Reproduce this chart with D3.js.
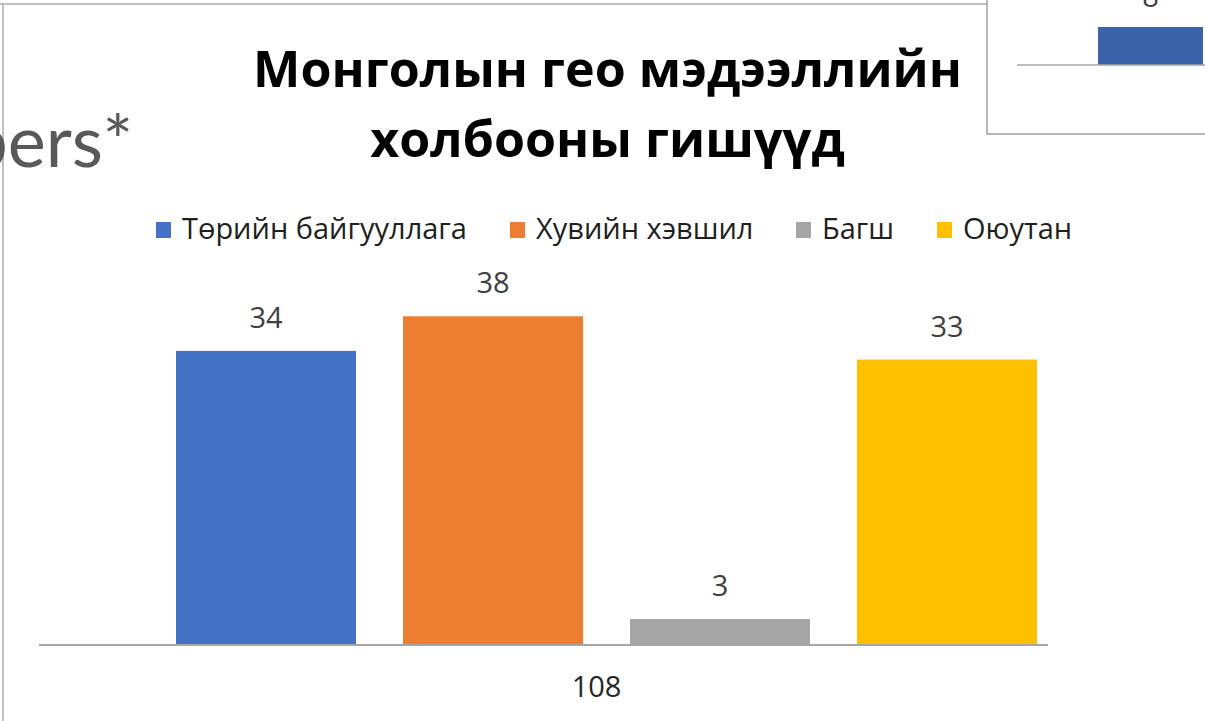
<!DOCTYPE html>
<html>
<head>
<meta charset="utf-8">
<script src="https://cdn.jsdelivr.net/npm/d3@7"></script>
<style>
  html, body { margin: 0; padding: 0; background: #ffffff; overflow: hidden; }
  svg { display: block; }
</style>
</head>
<body>
<svg id="chart" width="1205" height="721"></svg>
<script>
// ---- data ----
const categories = ["108"];
const seriesNames = ["Төрийн байгууллага", "Хувийн хэвшил", "Багш", "Оюутан"];
const seriesValues = [34, 38, 3, 33];
const seriesColors = ["#4472c4", "#ed7d31", "#a5a5a5", "#ffc000"];
const titleLines = ["Монголын гео мэдээллийн", "холбооны гишүүд"];
const insetValues = [8];
const slideText = "Members*";

const svg = d3.select("#chart");
const W = 1205, H = 721;

// fit font size so text width matches a target
function fitWidth(sel, target) {
  const fs = parseFloat(sel.attr("font-size"));
  const w = sel.node().getComputedTextLength();
  if (w > 0) sel.attr("font-size", (fs * target / w).toFixed(2));
  return parseFloat(sel.attr("font-size"));
}

// ---- main chart frame ----
svg.append("line").attr("x1", 0).attr("x2", 987).attr("y1", 4).attr("y2", 4)
  .attr("stroke", "#ababab").attr("stroke-width", 1.5);
svg.append("line").attr("x1", 3).attr("x2", 3).attr("y1", 4).attr("y2", H)
  .attr("stroke", "#ababab").attr("stroke-width", 1.5);

// ---- title ----
const t1 = svg.append("text").attr("x", 607.5).attr("y", 87)
  .attr("text-anchor", "middle").attr("font-family", "'Open Sans', 'Noto Sans', sans-serif")
  .attr("font-weight", 700).attr("font-size", 48).attr("fill", "#000").text(titleLines[0]);
const tfs = fitWidth(t1, 709);
svg.append("text").attr("x", 607.5).attr("y", 157)
  .attr("text-anchor", "middle").attr("font-family", "'Open Sans', 'Noto Sans', sans-serif")
  .attr("font-weight", 700).attr("font-size", tfs).attr("fill", "#000").text(titleLines[1]);

// ---- legend ----
const legendX = [156, 510, 796, 937];
const leg = svg.append("g");
let lfs = 24;
seriesNames.forEach((name, i) => {
  leg.append("rect").attr("x", legendX[i]).attr("y", 222).attr("width", 15).attr("height", 16)
    .attr("fill", seriesColors[i]);
  const t = leg.append("text").attr("x", legendX[i] + 26).attr("y", 239)
    .attr("font-family", "'Open Sans', 'Noto Sans', sans-serif").attr("font-size", lfs)
    .attr("fill", "#1f1f1f").text(name);
  if (i === 0) lfs = fitWidth(t, 285);
});

// ---- scales ----
const axisY = 645;
const y = d3.scaleLinear().domain([0, 40]).range([axisY, 299]);
const xCat = d3.scaleBand().domain(categories).range([102, 1111]);
const xSer = d3.scaleBand().domain(seriesNames).range([0, xCat.bandwidth()])
  .paddingInner(0.207).paddingOuter(0.326);

// ---- bars ----
const g = svg.append("g");
categories.forEach(cat => {
  seriesNames.forEach((name, i) => {
    const v = seriesValues[i];
    const x = xCat(cat) + xSer(name);
    g.append("rect").attr("x", x).attr("y", y(v))
      .attr("width", xSer.bandwidth()).attr("height", y(0) - y(v))
      .attr("fill", seriesColors[i]);
    g.append("text").attr("x", x + xSer.bandwidth() / 2).attr("y", y(v) - 23)
      .attr("text-anchor", "middle").attr("font-family", "'Open Sans', 'Noto Sans', sans-serif")
      .attr("font-size", 29).attr("fill", "#404040").text(v);
  });
  g.append("text").attr("x", xCat(cat) + xCat.bandwidth() / 2 - 10).attr("y", 697)
    .attr("text-anchor", "middle").attr("font-family", "'Open Sans', 'Noto Sans', sans-serif")
    .attr("font-size", 29).attr("fill", "#262626").text(cat);
});

// axis line
svg.append("line").attr("x1", 39).attr("x2", 1048).attr("y1", axisY).attr("y2", axisY)
  .attr("stroke", "#a6a6a6").attr("stroke-width", 2);

// ---- inset chart (top right, cropped) ----
const inset = svg.append("g");
inset.append("rect").attr("x", 987).attr("y", -10).attr("width", 300).attr("height", 144)
  .attr("fill", "#fff").attr("stroke", "#a0a0a0").attr("stroke-width", 1.5);
const iy = d3.scaleLinear().domain([0, 10]).range([65, 17.5]);
const ix = d3.scaleBand().domain(["a"]).range([1098, 1203]);
insetValues.forEach(v => {
  inset.append("rect").attr("x", ix("a")).attr("y", iy(v))
    .attr("width", ix.bandwidth()).attr("height", iy(0) - iy(v)).attr("fill", "#3b63aa");
  inset.append("text").attr("x", ix("a") + ix.bandwidth() / 2).attr("y", iy(v) - 20)
    .attr("text-anchor", "middle").attr("font-family", "'Open Sans', 'Noto Sans', sans-serif")
    .attr("font-size", 29).attr("fill", "#404040").text(v);
});
inset.append("line").attr("x1", 1017).attr("x2", 1205).attr("y1", 65).attr("y2", 65)
  .attr("stroke", "#a6a6a6").attr("stroke-width", 1.5);

// ---- slide text fragment (cropped on left) ----
svg.append("text").attr("x", 133).attr("y", 167).attr("text-anchor", "end")
  .attr("font-family", "Lato, 'DejaVu Sans', sans-serif").attr("font-weight", 400)
  .attr("font-size", 72).attr("fill", "#595959").text(slideText);
</script>
</body>
</html>
